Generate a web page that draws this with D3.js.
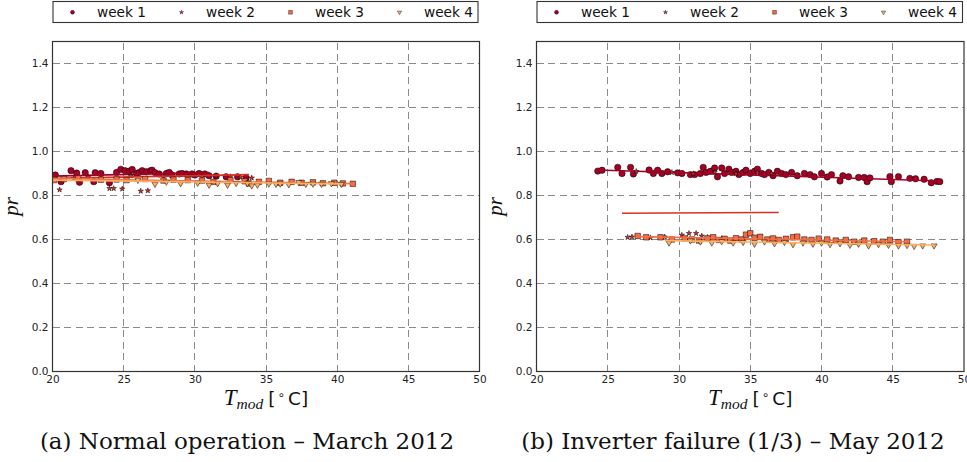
<!DOCTYPE html>
<html><head><meta charset="utf-8">
<script src="https://cdn.jsdelivr.net/npm/d3@7"></script>
<style>body{margin:0;background:#fff}</style>
</head><body>
<svg id="c" width="967" height="462" xmlns="http://www.w3.org/2000/svg"></svg>
<script>
// ---------- data ----------
const weeks = ["week 1", "week 2", "week 3", "week 4"];
const weekColors = ["#a50026", "#d73027", "#f46d43", "#fdae61"];
const xTicks = [20, 25, 30, 35, 40, 45, 50];
const yTicks = [0.0, 0.2, 0.4, 0.6, 0.8, 1.0, 1.2, 1.4];
const xLabelMain = "T";
const xLabelSub = "mod";
const yLabel = "pr";
const captions = ["(a) Normal operation – March 2012", "(b) Inverter failure (1/3) – May 2012"];

// March 2012 (normal operation): [Tmod, pr]
const marchWeek1 = [[20.2,0.893],[20.6,0.863],[21.3,0.913],[21.7,0.902],[21.9,0.86],[22.3,0.904],[22.9,0.863],[23.0,0.904],[23.4,0.90],[24.0,0.858],[24.5,0.905],[24.8,0.919],[25.1,0.913],[25.4,0.911],[25.6,0.918],[25.9,0.90],[26.1,0.905],[26.3,0.913],[26.6,0.908],[26.9,0.913],[27.0,0.915],[27.2,0.904],[27.5,0.898],[28.0,0.90],[28.2,0.905],[28.4,0.893],[28.9,0.898],[29.1,0.90],[29.4,0.898],[29.8,0.898],[30.0,0.893],[30.3,0.90],[30.7,0.898],[31.0,0.89],[31.5,0.888],[32.2,0.885],[33.0,0.885],[33.6,0.88]];
const marchWeek2 = [[20.5,0.826],[21.5,0.878],[22.5,0.885],[24.0,0.832],[24.3,0.832],[24.9,0.83],[25.5,0.89],[26.2,0.82],[26.7,0.822],[27.8,0.885],[29.5,0.885],[30.5,0.887],[31.5,0.89],[32.5,0.886],[33.2,0.884],[34.0,0.88]];
const marchWeek3 = [[20.1,0.87],[20.8,0.875],[21.8,0.878],[23.4,0.872],[24.5,0.873],[25.2,0.87],[26.5,0.875],[27.8,0.868],[28.5,0.872],[29.5,0.87],[30.5,0.868],[31.3,0.862],[32.5,0.87],[33.5,0.865],[33.8,0.855],[34.5,0.862],[35.2,0.866],[36.0,0.858],[36.8,0.862],[37.5,0.858],[38.3,0.86],[39.0,0.856],[39.8,0.858],[40.4,0.855],[41.1,0.853]];
const marchWeek4 = [[26.0,0.87],[27.2,0.852],[28.0,0.862],[29.0,0.855],[30.2,0.857],[31.0,0.848],[31.6,0.855],[32.3,0.848],[32.9,0.856],[33.7,0.855],[34.0,0.845],[34.4,0.848],[35.2,0.853],[35.7,0.852],[36.0,0.853],[36.6,0.85],[37.3,0.86],[37.8,0.852],[38.3,0.853],[38.9,0.852],[39.6,0.855],[40.3,0.852]];
const marchFits = [[[20,0.888],[31,0.904]],[[20.3,0.878],[33.8,0.895]],[[20,0.877],[41.1,0.854]],[[20,0.870],[40.3,0.853]]];

// May 2012 (inverter failure 1/3): [Tmod, pr]
const mayWeek1 = [[24.3,0.911],[24.6,0.915],[25.7,0.928],[26.0,0.90],[26.6,0.928],[26.8,0.898],[27.9,0.916],[28.2,0.90],[28.5,0.915],[28.8,0.90],[29.2,0.908],[29.9,0.903],[30.2,0.90],[30.8,0.895],[31.1,0.895],[31.5,0.90],[31.7,0.928],[31.9,0.905],[32.2,0.91],[32.5,0.925],[32.7,0.885],[33.0,0.925],[33.2,0.90],[33.5,0.92],[33.7,0.905],[34.0,0.91],[34.2,0.895],[34.5,0.905],[34.7,0.915],[35.0,0.90],[35.3,0.91],[35.5,0.92],[35.8,0.90],[36.0,0.895],[36.3,0.905],[36.6,0.89],[36.9,0.91],[37.2,0.90],[37.5,0.895],[37.9,0.905],[38.3,0.89],[38.8,0.90],[39.2,0.895],[39.5,0.885],[40.0,0.90],[40.4,0.884],[40.7,0.895],[41.3,0.866],[41.5,0.89],[41.9,0.885],[42.6,0.882],[43.0,0.882],[43.2,0.863],[43.4,0.88],[44.8,0.886],[44.9,0.863],[45.4,0.886],[46.2,0.878],[46.6,0.876],[47.2,0.874],[47.7,0.858],[48.1,0.864],[48.3,0.863]];
const mayWeek2 = [[26.4,0.61],[26.7,0.612],[27.0,0.91],[28.0,0.608],[29.0,0.612],[29.5,0.905],[30.2,0.62],[30.7,0.628],[31.0,0.90],[31.2,0.628],[31.6,0.616],[32.0,0.61],[32.5,0.905],[33.0,0.605],[34.0,0.90],[34.5,0.60],[35.5,0.905],[36.5,0.90]];
const mayWeek3 = [[27.1,0.616],[27.7,0.61],[28.7,0.61],[29.5,0.60],[30.4,0.605],[30.9,0.60],[31.4,0.595],[32.0,0.605],[32.4,0.61],[32.8,0.598],[33.2,0.603],[33.6,0.595],[34.0,0.606],[34.4,0.60],[34.7,0.622],[35.0,0.628],[35.3,0.608],[35.7,0.612],[36.2,0.60],[36.6,0.605],[37.0,0.598],[37.5,0.603],[38.0,0.61],[38.3,0.613],[38.8,0.60],[39.3,0.598],[39.8,0.604],[40.4,0.60],[41.0,0.595],[41.7,0.598],[42.3,0.59],[43.0,0.595],[43.7,0.592],[44.3,0.59],[44.8,0.598],[45.4,0.588],[46.0,0.59]];
const mayWeek4 = [[29.3,0.585],[30.8,0.595],[31.5,0.59],[32.3,0.585],[33.0,0.592],[33.8,0.585],[34.5,0.588],[35.3,0.58],[36.0,0.59],[36.7,0.582],[37.4,0.588],[38.0,0.578],[38.7,0.585],[39.4,0.58],[40.0,0.585],[40.6,0.578],[41.3,0.582],[42.0,0.575],[42.6,0.58],[43.3,0.572],[44.0,0.578],[44.7,0.575],[45.4,0.572],[46.0,0.574],[46.5,0.57],[47.1,0.572],[47.9,0.572]];
const mayFits = [[[24.3,0.916],[48.3,0.866]],[[26.0,0.719],[37.0,0.723]],[[27.0,0.613],[46.0,0.590]],[[29.0,0.595],[47.9,0.575]]];

// ---------- drawing ----------
const svg = d3.select("#c");
const panels = [
  {x0: 52.5, x1: 479.5, capX: 247, ylabX: 13, data: [marchWeek1, marchWeek2, marchWeek3, marchWeek4], fits: marchFits, caption: captions[0]},
  {x0: 536.5, x1: 964, capX: 733, ylabX: 497, data: [mayWeek1, mayWeek2, mayWeek3, mayWeek4], fits: mayFits, caption: captions[1]}
];
const yTop = 41.5, yBot = 371.5;
const symTypes = [d3.symbolCircle, d3.symbolStar, d3.symbolSquare, d3.symbolTriangle];
const symSizes = [32, 9, 30, 16];
const legSizes = [12, 5, 14, 8];
const symRot = [0, 0, 0, 180];

panels.forEach((p, pi) => {
  const x = d3.scaleLinear().domain([20, 50]).range([p.x0, p.x1]);
  const y = d3.scaleLinear().domain([0, 1.5]).range([yBot, yTop]);
  const g = svg.append("g");
  const clipId = "clip" + pi;
  svg.append("clipPath").attr("id", clipId).append("rect")
    .attr("x", p.x0).attr("y", yTop).attr("width", p.x1 - p.x0).attr("height", yBot - yTop);

  // grid
  const grid = g.append("g").attr("stroke", "#8a8a8a").attr("stroke-width", 1).attr("stroke-dasharray", "7,4.5");
  xTicks.slice(1, -1).forEach(t => grid.append("line")
    .attr("x1", x(t)).attr("x2", x(t)).attr("y1", yBot).attr("y2", yTop).attr("shape-rendering", "crispEdges"));
  yTicks.slice(1).forEach(t => grid.append("line")
    .attr("x1", p.x0).attr("x2", p.x1).attr("y1", y(t)).attr("y2", y(t)).attr("shape-rendering", "crispEdges"));

  // data
  const plot = g.append("g").attr("clip-path", `url(#${clipId})`);
  p.data.forEach((pts, wi) => {
    const sym = d3.symbol().type(symTypes[wi]).size(symSizes[wi]);
    plot.append("g").selectAll("path").data(pts).join("path")
      .attr("d", sym)
      .attr("transform", d => `translate(${x(d[0])},${y(d[1])}) rotate(${symRot[wi]})`)
      .attr("fill", weekColors[wi]).attr("stroke", "#000").attr("stroke-width", 0.5);
    const line = d3.line().x(d => x(d[0])).y(d => y(d[1]));
    plot.append("path").datum(p.fits[wi]).attr("d", line)
      .attr("fill", "none").attr("stroke", weekColors[wi]).attr("stroke-width", 1.6);
  });

  // frame
  g.append("rect").attr("x", p.x0).attr("y", yTop).attr("width", p.x1 - p.x0).attr("height", yBot - yTop)
    .attr("fill", "none").attr("stroke", "#333").attr("stroke-width", 1.2);

  // axes
  const yAx = g.append("g").attr("transform", `translate(${p.x0},0)`)
    .call(d3.axisLeft(y).tickValues(yTicks).tickSize(0).tickPadding(4).tickFormat(d3.format(".1f")));
  yAx.select(".domain").remove();
  yAx.selectAll("text").attr("font-family", "DejaVu Sans").attr("font-size", 10.5).attr("fill", "#222");
  const xAx = g.append("g").attr("transform", `translate(0,${yBot})`)
    .call(d3.axisBottom(x).tickValues(xTicks).tickSize(0).tickPadding(4).tickFormat(d3.format("d")));
  xAx.select(".domain").remove();
  xAx.selectAll("text").attr("font-family", "DejaVu Sans").attr("font-size", 10.5).attr("fill", "#222");

  // x label
  const cx = (p.x0 + p.x1) / 2;
  const xl = g.append("text").attr("x", cx).attr("y", 405).attr("text-anchor", "middle").attr("fill", "#111");
  xl.append("tspan").attr("font-family", "Liberation Serif").attr("font-style", "italic").attr("font-size", 23).text(xLabelMain);
  xl.append("tspan").attr("font-family", "Liberation Serif").attr("font-style", "italic").attr("font-size", 15.5).attr("dy", 4).text(xLabelSub);
  xl.append("tspan").attr("font-family", "DejaVu Sans").attr("font-size", 18.5).attr("dy", -4).attr("dx", 5).text("[");
  xl.append("tspan").attr("font-family", "DejaVu Sans").attr("font-size", 12).attr("dy", -6).attr("dx", 2).text("∘");
  xl.append("tspan").attr("font-family", "DejaVu Sans").attr("font-size", 18.5).attr("dy", 6).attr("dx", 3).text("C]");

  // y label
  g.append("text").attr("transform", `translate(${p.ylabX + 5},${(yTop + yBot) / 2}) rotate(-90)`)
    .attr("text-anchor", "middle").attr("font-family", "Liberation Serif").attr("font-style", "italic")
    .attr("font-size", 21).attr("fill", "#111").text(yLabel);

  // caption
  g.append("text").attr("x", p.capX).attr("y", 449).attr("text-anchor", "middle")
    .attr("font-family", "DejaVu Serif").attr("font-size", 23).attr("fill", "#111").text(p.caption);

  // legend
  const lg = g.append("g");
  lg.append("rect").attr("x", p.x0 + 0.5).attr("y", 1.5).attr("width", p.x1 - p.x0 - 2).attr("height", 21)
    .attr("fill", "#fff").attr("stroke", "#333").attr("stroke-width", 1.1);
  weeks.forEach((w, wi) => {
    const mx = p.x0 + 20 + wi * 109;
    lg.append("path").attr("d", d3.symbol().type(symTypes[wi]).size(legSizes[wi])())
      .attr("transform", `translate(${mx},12.3) rotate(${symRot[wi]})`)
      .attr("fill", weekColors[wi]).attr("stroke", "#000").attr("stroke-width", 0.4);
    lg.append("text").attr("x", mx + 24.5).attr("y", 17).attr("font-family", "DejaVu Sans")
      .attr("font-size", 13.7).attr("fill", "#111").text(w);
  });
});
</script>
</body></html>
